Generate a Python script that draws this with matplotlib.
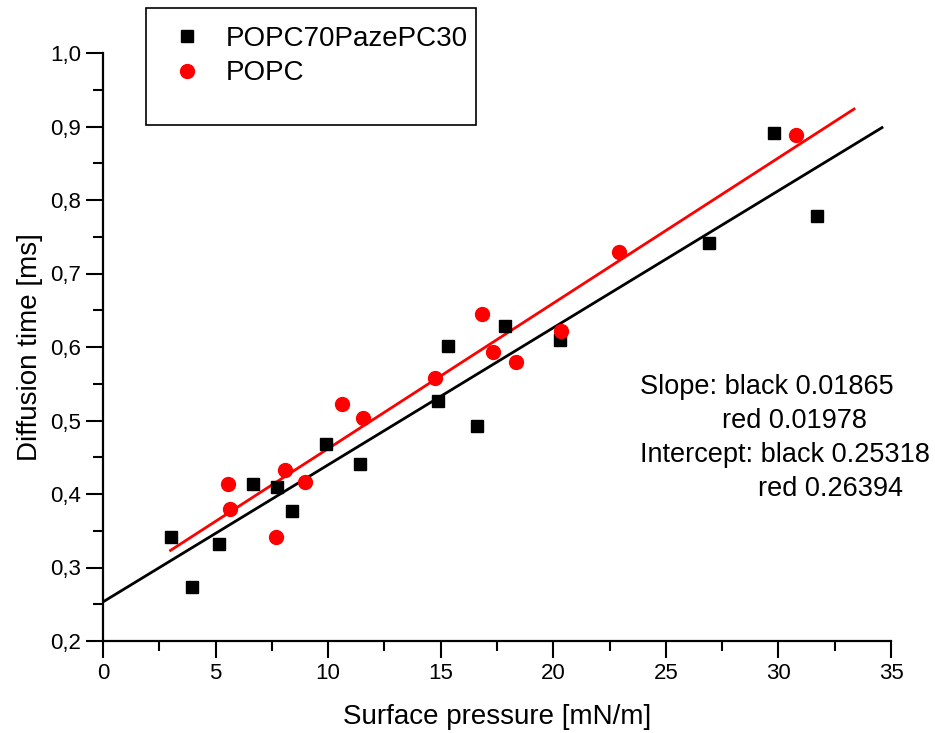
import matplotlib
matplotlib.use("Agg")
import matplotlib.pyplot as plt
import numpy as np
from matplotlib.patches import Rectangle
from matplotlib.ticker import MultipleLocator, FuncFormatter

plt.rcParams['font.family'] = ['Liberation Sans', 'DejaVu Sans']

# POPC70PazePC30 (black squares)
black_x = [3.02, 3.97, 5.15, 6.68, 7.73, 8.38, 9.89, 11.40, 14.89, 15.31,
           16.61, 17.87, 20.31, 26.93, 29.79, 31.70]
black_y = [0.341, 0.273, 0.332, 0.414, 0.410, 0.377, 0.468, 0.441, 0.526, 0.602,
           0.492, 0.628, 0.610, 0.741, 0.891, 0.778]

# POPC (red circles)
red_x = [5.57, 5.65, 7.68, 8.07, 8.96, 10.63, 11.54, 14.73, 16.83, 17.31,
         18.33, 20.34, 22.93, 30.78]
red_y = [0.413, 0.379, 0.342, 0.432, 0.416, 0.522, 0.503, 0.558, 0.645, 0.593,
         0.579, 0.622, 0.729, 0.889]

# linear fits
black_slope, black_icpt = 0.01865, 0.25318
red_slope, red_icpt = 0.01978, 0.26394
black_range = [0.0, 34.6]
red_range = [3.0, 33.36]

fig = plt.figure(figsize=(9.35, 7.33), dpi=100)
ax = fig.add_axes([103/935, 1-641/733, (891-103)/935, (641-53)/733])

bx = np.array(black_range)
rx = np.array(red_range)
ax.plot(bx, black_icpt + black_slope*bx, color='black', lw=2)
ax.plot(rx, red_icpt + red_slope*rx, color='red', lw=2)
ax.plot(black_x, black_y, 's', color='black', ms=8.6, label='POPC70PazePC30', zorder=3)
ax.plot(red_x, red_y, 'o', color='red', ms=10, label='POPC', zorder=3)

ax.set_xlim(0, 35)
ax.set_ylim(0.2, 1.0)
ax.xaxis.set_major_locator(MultipleLocator(5))
ax.xaxis.set_minor_locator(MultipleLocator(2.5))
ax.yaxis.set_major_locator(MultipleLocator(0.1))
ax.yaxis.set_minor_locator(MultipleLocator(0.05))
ax.yaxis.set_major_formatter(FuncFormatter(lambda v, p: f"{v:.1f}".replace('.', ',')))

for s in ['top', 'right']:
    ax.spines[s].set_visible(False)
for s in ['left', 'bottom']:
    ax.spines[s].set_linewidth(1.6)
ax.tick_params(which='major', direction='out', length=12, width=1.5, labelsize=16, pad=4)
ax.tick_params(which='minor', direction='out', length=7, width=1.5)

ax.set_xlabel('Surface pressure [mN/m]', fontsize=20, labelpad=14)
ax.set_ylabel('Diffusion time [ms]', fontsize=20, labelpad=5)

# legend box
fig.patches.append(Rectangle((146/935, 1-125/733), (476-146)/935, (125-8)/733,
                             transform=fig.transFigure, fill=False, edgecolor='black',
                             lw=1.2, zorder=5))
h, l = ax.get_legend_handles_labels()
fig.legend(h, l, loc='upper left', bbox_to_anchor=(173/935, 1-26/733),
           frameon=False, fontsize=20, handlelength=1.0, handletextpad=0.9,
           borderpad=0, borderaxespad=0, labelspacing=0.3)

# fit annotation
fs = 19.5
fig.text(640/935, 1-387/733, 'Slope: black 0.01865', fontsize=fs, va='center')
fig.text(722/935, 1-421/733, 'red 0.01978', fontsize=fs, va='center')
fig.text(640/935, 1-455/733, 'Intercept: black 0.25318', fontsize=fs, va='center')
fig.text(758/935, 1-489/733, 'red 0.26394', fontsize=fs, va='center')

fig.savefig('out.png', dpi=100)
